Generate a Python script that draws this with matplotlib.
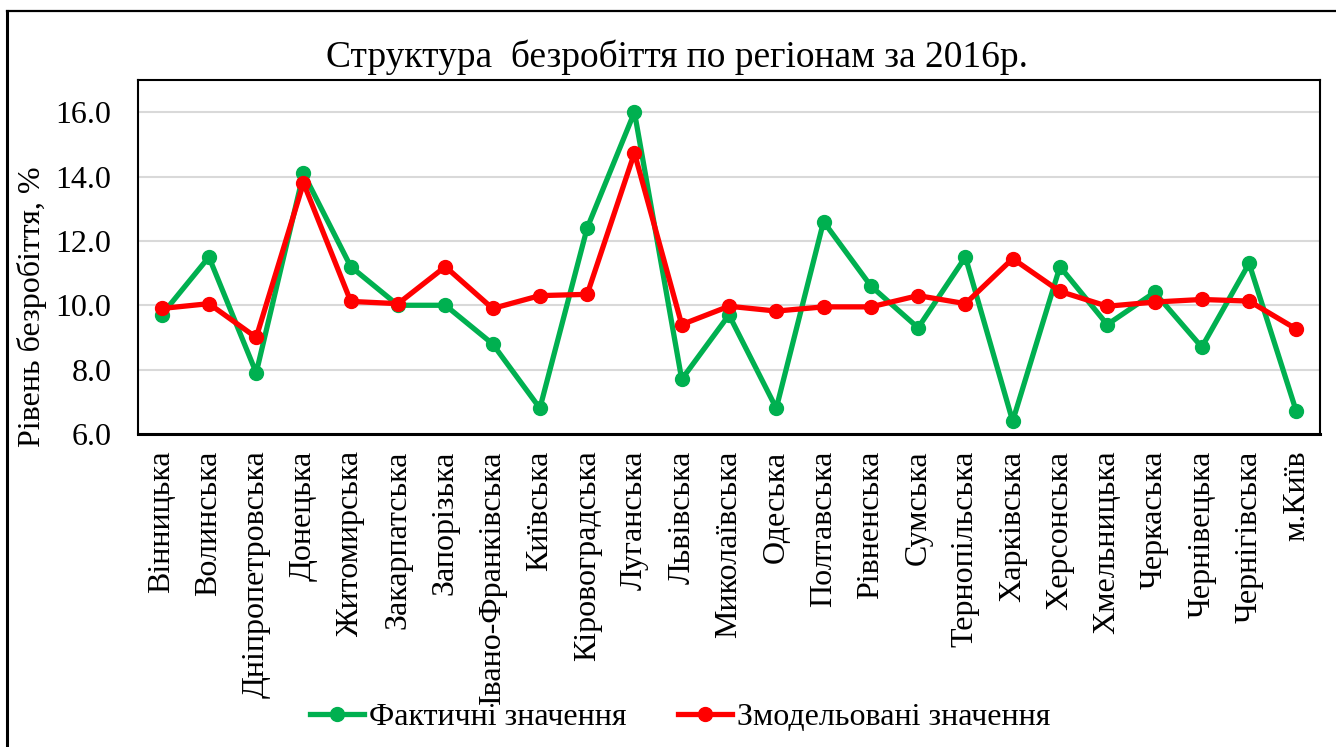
import matplotlib
matplotlib.use("Agg")
import matplotlib.pyplot as plt
from matplotlib.lines import Line2D

plt.rcParams['font.family'] = ['Liberation Serif', 'DejaVu Serif']

regions = [
    'Вінницька', 'Волинська', 'Дніпропетровська', 'Донецька', 'Житомирська',
    'Закарпатська', 'Запорізька', 'Івано-Франківська', 'Київська',
    'Кіровоградська', 'Луганська', 'Львівська', 'Миколаївська', 'Одеська',
    'Полтавська', 'Рівненська', 'Сумська', 'Тернопільська', 'Харківська',
    'Херсонська', 'Хмельницька', 'Черкаська', 'Чернівецька', 'Чернігівська',
    'м.Київ',
]
actual = [9.7, 11.5, 7.9, 14.1, 11.2, 10.0, 10.0, 8.8, 6.8, 12.4, 16.0, 7.7,
          9.7, 6.8, 12.6, 10.6, 9.3, 11.5, 6.4, 11.2, 9.4, 10.4, 8.7, 11.3, 6.7]
modeled = [9.9, 10.05, 9.0, 13.8, 10.12, 10.05, 11.2, 9.9, 10.3, 10.34, 14.73,
           9.4, 9.97, 9.82, 9.95, 9.95, 10.3, 10.05, 11.45, 10.43, 9.97, 10.1,
           10.18, 10.13, 9.26]
y_ticks = [6.0, 8.0, 10.0, 12.0, 14.0, 16.0]

W, H = 1336, 747
fig = plt.figure(figsize=(W / 100, H / 100), dpi=100)
ax = fig.add_axes([138 / W, 1 - 434 / H, (1320 - 138) / W, (434 - 80) / H])

x = list(range(len(regions)))
ax.plot(x, actual, color='#00B050', lw=3.8, marker='o', ms=10,
        label='Фактичні значення', zorder=3)
ax.plot(x, modeled, color='#FF0000', lw=3.8, marker='o', ms=10,
        label='Змодельовані значення', zorder=4)

ax.set_xlim(-0.5, len(regions) - 0.5)
ax.set_ylim(6, 17)
ax.set_yticks(y_ticks)
ax.set_yticklabels([f'{v:.1f}' for v in y_ticks], fontsize=23)
ax.set_xticks(x)
ax.set_xticklabels(regions, rotation=90, fontsize=23, va='top', ha='center')
ax.tick_params(axis='both', length=0)
ax.tick_params(axis='x', pad=12)
ax.tick_params(axis='y', pad=19)
ax.grid(axis='y', color='#D9D9D9', lw=1.5, zorder=0)
ax.set_axisbelow(True)
for s in ax.spines.values():
    s.set_color('black')
    s.set_linewidth(1.5)
ax.spines['bottom'].set_linewidth(2.2)

ax.set_ylabel('Рівень безробіття, %', fontsize=23)
ax.yaxis.set_label_coords(-0.077, 0.36)

fig.text(677 / W, 1 - 57 / H, 'Структура  безробіття по регіонам за 2016р.',
         fontsize=27, ha='center', va='center')

fig.legend(loc='center', bbox_to_anchor=(680 / W, 1 - 717 / H), ncol=2,
           frameon=False, fontsize=23, handlelength=1.7, columnspacing=1.6,
           handletextpad=0.15, borderpad=0)

# outer chart frame (runs off the right and bottom edges)
fig.add_artist(Line2D([7 / W, 7 / W], [0, 1 - 11 / H], color='black', lw=2.2,
                      transform=fig.transFigure))
fig.add_artist(Line2D([7 / W, 1], [1 - 11 / H, 1 - 11 / H], color='black',
                      lw=1.6, transform=fig.transFigure))

fig.savefig('out.png', dpi=100)
